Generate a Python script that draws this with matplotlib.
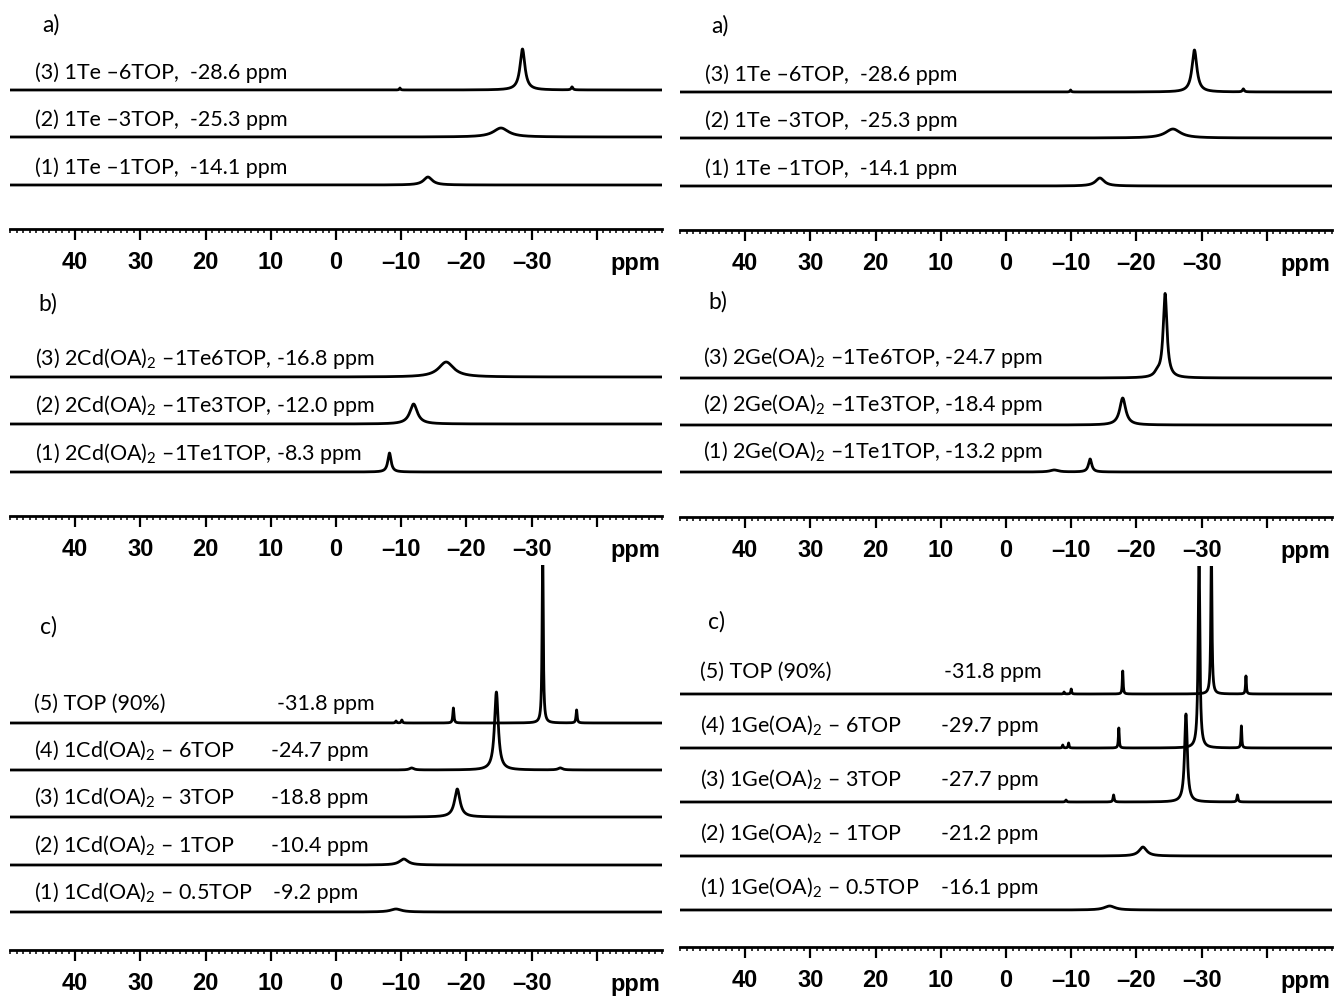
import numpy as np
import matplotlib
matplotlib.use("Agg")
import matplotlib.pyplot as plt
from matplotlib.ticker import FixedLocator, MultipleLocator, FixedFormatter

plt.rcParams['mathtext.fontset'] = 'custom'
plt.rcParams['mathtext.rm'] = 'Lato'
plt.rcParams['mathtext.it'] = 'Lato:italic'
plt.rcParams['mathtext.default'] = 'rm'

# ---------------- data (peaks: position ppm, height px, FWHM ppm) ----------------
# traces are listed bottom (1) to top
a_left_pos = [[-14.1], [-25.3], [-28.6, -36.2, -9.8]]
a_left_hgt = [[8], [9], [41, 3, 2]]
a_left_fw = [[1.6], [2.8], [0.9, 0.3, 0.2]]
a_labels = ["(1) 1Te \u20131TOP,  -14.1 ppm", "(2) 1Te \u20133TOP,  -25.3 ppm",
            "(3) 1Te \u20136TOP,  -28.6 ppm"]

a_right_pos = [[-14.4], [-25.6], [-28.9, -36.4, -9.9]]
a_right_hgt = [[8], [9], [42, 3, 2]]
a_right_fw = [[1.6], [2.8], [0.9, 0.3, 0.2]]

b_left_pos = [[-8.2], [-11.9], [-16.9]]
b_left_hgt = [[19], [20], [15]]
b_left_fw = [[0.6], [1.4], [2.8]]
b_left_labels = ["(1) 2Cd(OA)$_2$ \u20131Te1TOP, -8.3 ppm",
                 "(2) 2Cd(OA)$_2$ \u20131Te3TOP, -12.0 ppm",
                 "(3) 2Cd(OA)$_2$ \u20131Te6TOP, -16.8 ppm"]

b_right_pos = [[-12.9, -7.4], [-17.9], [-24.4, -23.2]]
b_right_hgt = [[13, 2], [27], [84, 4]]
b_right_fw = [[0.6, 1.5], [1.1], [0.7, 1.0]]
b_right_labels = ["(1) 2Ge(OA)$_2$ \u20131Te1TOP, -13.2 ppm",
                  "(2) 2Ge(OA)$_2$ \u20131Te3TOP, -18.4 ppm",
                  "(3) 2Ge(OA)$_2$ \u20131Te6TOP, -24.7 ppm"]

c_left_pos = [[-9.2], [-10.4], [-18.6], [-24.6, -11.6, -34.4],
              [-31.7, -18.0, -36.9, -10.1, -9.2]]
c_left_hgt = [[3], [6], [28], [78, 2, 2], [180, 15, 13, 3, 2]]
c_left_fw = [[2.0], [1.6], [1.0], [0.7, 0.8, 0.8], [0.2, 0.2, 0.2, 0.2, 0.2]]
c_left_labels = ["(1) 1Cd(OA)$_2$ \u2013 0.5TOP", "(2) 1Cd(OA)$_2$ \u2013 1TOP",
                 "(3) 1Cd(OA)$_2$ \u2013 3TOP", "(4) 1Cd(OA)$_2$ \u2013 6TOP",
                 "(5) TOP (90%)"]
c_left_values = ["-9.2 ppm", "-10.4 ppm", "-18.8 ppm", "-24.7 ppm", "-31.8 ppm"]

c_right_pos = [[-15.9], [-21.0], [-27.6, -16.5, -35.5, -9.2],
               [-29.6, -17.3, -36.1, -9.6, -8.7],
               [-31.5, -17.9, -36.8, -10.0, -8.9]]
c_right_hgt = [[4], [9], [88, 7, 7, 2], [200, 20, 22, 5, 3], [150, 23, 18, 5, 2]]
c_right_fw = [[2.0], [1.4], [0.5, 0.2, 0.2, 0.2], [0.3, 0.15, 0.15, 0.15, 0.15],
              [0.2, 0.15, 0.15, 0.15, 0.15]]
c_right_labels = ["(1) 1Ge(OA)$_2$ \u2013 0.5TOP", "(2) 1Ge(OA)$_2$ \u2013 1TOP",
                  "(3) 1Ge(OA)$_2$ \u2013 3TOP", "(4) 1Ge(OA)$_2$ \u2013 6TOP",
                  "(5) TOP (90%)"]
c_right_values = ["-16.1 ppm", "-21.2 ppm", "-27.7 ppm", "-29.7 ppm", "-31.8 ppm"]

tick_values = [40, 30, 20, 10, 0, -10, -20, -30, -40]
tick_labels = ["40", "30", "20", "10", "0", "\u201310", "\u201320", "\u201330", ""]

# ---------------- layout ----------------
W, H = 1334, 998
fig = plt.figure(figsize=(W / 100, H / 100), dpi=100)
ppm = np.linspace(50, -50, 20001)

LABEL_FONT = "Lato"
LABEL_SIZE = 15.5


def fx(x):
    return x / W


def fy(y):
    return 1 - y / H


def spectrum(pos, hgt, fw):
    y = np.zeros_like(ppm)
    for p, h, w in zip(pos, hgt, fw):
        y += h / (1 + ((ppm - p) / (w / 2)) ** 2)
    return y


def panel(x0, x1, axis_y, top_y, baselines, pos, hgt, fw, labels, label_x,
          label_dy, letter, letter_xy, values=None, value_x=None):
    ax = fig.add_axes([fx(x0), fy(axis_y), (x1 - x0) / W, (axis_y - top_y) / H])
    ax.set_xlim(50, -50)
    ax.set_ylim(axis_y, top_y)
    for s in ("top", "left", "right"):
        ax.spines[s].set_visible(False)
    ax.spines["bottom"].set_linewidth(2.0)
    ax.set_yticks([])
    ax.xaxis.set_major_locator(FixedLocator(tick_values))
    ax.xaxis.set_major_formatter(FixedFormatter(tick_labels))
    ax.xaxis.set_minor_locator(MultipleLocator(1))
    ax.tick_params(axis="x", which="major", direction="out", length=8, width=1.6,
                   pad=8, labelsize=17)
    ax.tick_params(axis="x", which="minor", direction="out", length=3, width=1.1)
    for t in ax.get_xticklabels():
        t.set_fontfamily("Liberation Sans")
        t.set_fontweight("bold")
    ax.patch.set_alpha(0)
    for i, b in enumerate(baselines):
        ax.plot(ppm, b - spectrum(pos[i], hgt[i], fw[i]), color="black", lw=2.0,
                solid_joinstyle="round")
        fig.text(fx(label_x), fy(b - label_dy), labels[i], fontfamily=LABEL_FONT,
                 fontsize=LABEL_SIZE, va="baseline", ha="left")
        if values is not None:
            fig.text(fx(value_x[i]), fy(b - label_dy), values[i],
                     fontfamily=LABEL_FONT, fontsize=LABEL_SIZE,
                     va="baseline", ha="left")
    fig.text(fx(x1 - 2), fy(axis_y + 41), "ppm", fontfamily="Liberation Sans",
             fontweight="bold", fontsize=17, ha="right", va="baseline")
    fig.text(fx(letter_xy[0]), fy(letter_xy[1]), letter, fontfamily=LABEL_FONT,
             fontsize=16.5, ha="left", va="baseline")
    return ax


# row a
panel(10, 662, 229, 30, [185, 137, 90], a_left_pos, a_left_hgt, a_left_fw,
      a_labels, 35, 11, "a)", (42, 32))
panel(680, 1332, 230, 30, [186, 138, 92], a_right_pos, a_right_hgt, a_right_fw,
      a_labels, 705, 11, "a)", (711, 33))
# row b
panel(10, 662, 516, 285, [472, 424, 377], b_left_pos, b_left_hgt, b_left_fw,
      b_left_labels, 35, 12, "b)", (38, 311))
panel(680, 1332, 517, 285, [472, 425, 378], b_right_pos, b_right_hgt, b_right_fw,
      b_right_labels, 703, 14, "b)", (708, 309))
# row c
panel(10, 662, 950, 565, [912, 865, 817, 770, 723], c_left_pos, c_left_hgt,
      c_left_fw, c_left_labels, 34, 13, "c)", (40, 634), c_left_values,
      [273, 271, 271, 271, 277])
panel(680, 1332, 947, 566, [910, 856, 802, 748, 694], c_right_pos, c_right_hgt,
      c_right_fw, c_right_labels, 700, 16, "c)", (708, 629), c_right_values,
      [941, 941, 941, 941, 944])

fig.savefig("out.png", dpi=100)
